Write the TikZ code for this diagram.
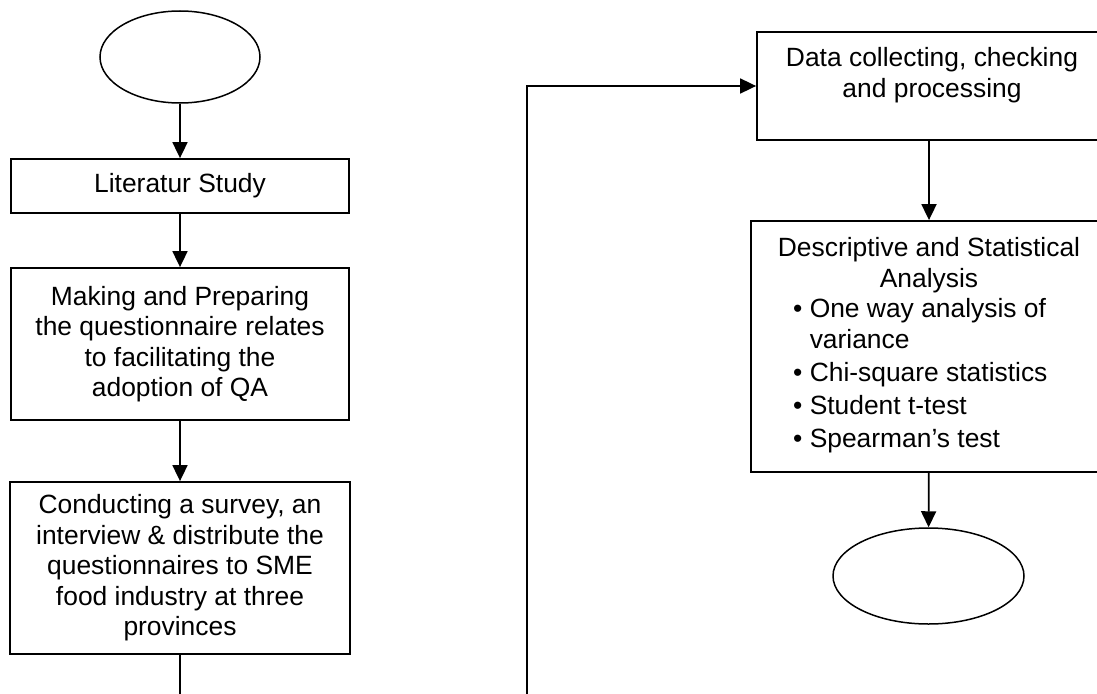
\documentclass[tikz,border=0pt]{standalone}
\usepackage{fontspec}
\setmainfont{Liberation Sans}
\usetikzlibrary{arrows.meta,shapes.geometric}
\begin{document}
\begin{tikzpicture}[x=1pt,y=-1pt,
  font=\fontsize{26.4}{30.5}\selectfont,
  flow/.style={draw, line width=1.8pt, rectangle, inner sep=0pt, align=center},
  term/.style={draw, line width=1.5pt, ellipse, inner sep=0pt},
  link/.style={line width=1.8pt, -{Triangle[length=16pt,width=15pt]}},
  wire/.style={line width=1.8pt},
  txt/.style={inner sep=0pt, align=center}]
\useasboundingbox (0,0) rectangle (1097,693);
\clip (0,0) rectangle (1097,693);

% left column
\node[term, minimum width=160pt, minimum height=92pt] (start) at (180,57) {};
\node[flow, minimum width=338pt, minimum height=54pt] (lit) at (180,186) {Literatur Study};
\node[flow, minimum width=338pt, minimum height=152pt] (prep) at (180,344)
  {Making and Preparing\\the questionnaire relates\\to facilitating the\\adoption of QA};
\node[flow, minimum width=340pt, minimum height=172pt] (survey) at (180,568)
  {Conducting a survey, an\\interview \& distribute the\\questionnaires to SME\\food industry at three\\provinces};
\coordinate (leftend) at (180,700);
\coordinate (riseend) at (527,700);

% right column
\node[flow, minimum width=344pt, minimum height=108pt] (data) at (929,86) {};
\node[txt, anchor=north] (datatext) at (932,47.5) {Data collecting, checking\\and processing};

\node[flow, minimum width=356pt, minimum height=251pt] (desc) at (929,346.5) {};
\node[txt, anchor=north] (deschead) at (929,237.5) {Descriptive and Statistical\\Analysis};
\node[txt, anchor=north west, align=left] (desclist) at (793,298.5)
  {\textbullet\ One way analysis of\\\phantom{\textbullet\ }variance\\[2.5pt]\textbullet\ Chi-square statistics\\[2.5pt]\textbullet\ Student t-test\\[2.5pt]\textbullet\ Spearman’s test};

\node[term, minimum width=191pt, minimum height=96pt] (stop) at (928.5,576) {};

% connectors
\draw[link] (start) -- (lit);
\draw[link] (lit) -- (prep);
\draw[link] (prep) -- (survey);
\draw[wire] (survey) -- (leftend);
\draw[link] (riseend) |- (data.west);
\draw[link] (data) -- (desc);
\draw[link] (desc) -- (stop);
\end{tikzpicture}
\end{document}
